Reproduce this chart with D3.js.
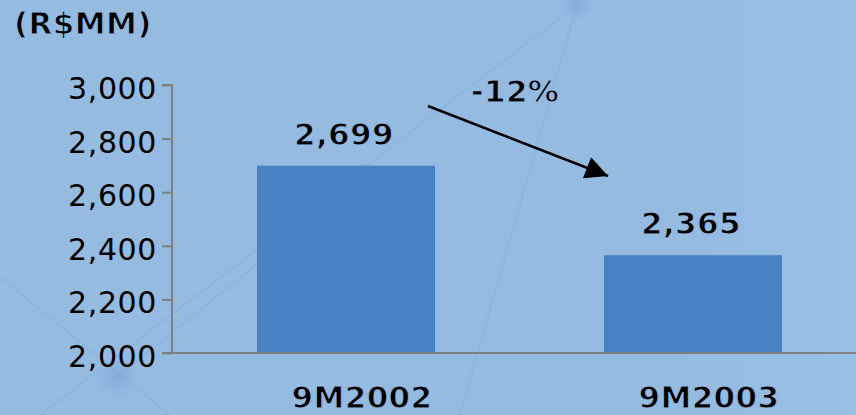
<!DOCTYPE html>
<html>
<head>
<meta charset="utf-8">
<script src="https://cdn.jsdelivr.net/npm/d3@7"></script>
<style>
  html, body { margin: 0; padding: 0; background: #94bbe1; }
  svg { display: block; }
  text { font-family: "DejaVu Sans", Verdana, sans-serif; fill: #000; }
</style>
</head>
<body>
<svg id="chart" width="856" height="415"></svg>
<script>
const categories = ["9M2002", "9M2003"];
const values = [2699, 2365];
const valueLabels = ["2,699", "2,365"];
const yTicks = [2000, 2200, 2400, 2600, 2800, 3000];
const unitLabel = "(R$MM)";
const changeLabel = "-12%";

const W = 856, H = 415;
const BG = "#95bbe1";
const svg = d3.select("#chart");

// background
const defs = svg.append("defs");
const glow = defs.append("radialGradient").attr("id", "glow");
glow.append("stop").attr("offset", "0%").attr("stop-color", "#7aa6d4").attr("stop-opacity", 0.6);
glow.append("stop").attr("offset", "100%").attr("stop-color", "#7aa6d4").attr("stop-opacity", 0);
const side = defs.append("linearGradient").attr("id", "side").attr("x1", 0).attr("x2", 1);
side.append("stop").attr("offset", "0%").attr("stop-color", BG);
side.append("stop").attr("offset", "80%").attr("stop-color", BG);
side.append("stop").attr("offset", "100%").attr("stop-color", "#98bfe6");
svg.append("rect").attr("width", W).attr("height", H).attr("fill", "url(#side)");

const bg = svg.append("g");
[[577, 5, 40, 415], [577, 5, 460, 415], [0, 277, 170, 415], [117, 377, 330, 205]].forEach(l => {
  bg.append("line").attr("x1", l[0]).attr("y1", l[1]).attr("x2", l[2]).attr("y2", l[3])
    .attr("stroke", "#7aa8d8").attr("stroke-opacity", 0.35).attr("stroke-width", 1.5);
});
[[577, 5, 16], [117, 377, 22]].forEach(n => {
  bg.append("circle").attr("cx", n[0]).attr("cy", n[1]).attr("r", n[2]).attr("fill", "url(#glow)");
});

const x = d3.scaleBand().domain(categories).range([172, 867]).paddingInner(0.487).paddingOuter(0.245);
const y = d3.scaleLinear().domain([2000, 3000]).range([353, 85]);

// bars
svg.append("g").selectAll("rect").data(values).join("rect")
  .attr("x", (d, i) => x(categories[i]))
  .attr("y", d => y(d))
  .attr("width", x.bandwidth())
  .attr("height", d => y(2000) - y(d))
  .attr("fill", "#4682c4");

// y axis
const yAxis = svg.append("g").attr("transform", "translate(172,0)")
  .call(d3.axisLeft(y).tickValues(yTicks).tickFormat(d3.format(",")).tickSize(10).tickPadding(5));
yAxis.select(".domain").attr("stroke", "#808080").attr("stroke-width", 2).attr("d", "M-10,85H0V353");
yAxis.selectAll(".tick line").attr("stroke", "#808080").attr("stroke-width", 2);
yAxis.selectAll(".tick text").attr("font-size", 30).attr("font-family", "DejaVu Sans")
  .attr("letter-spacing", 0.6).attr("dy", "0.45em").attr("fill", "#000");

// x axis baseline
svg.append("line").attr("x1", 162).attr("x2", W).attr("y1", y(2000)).attr("y2", y(2000))
  .attr("stroke", "#808080").attr("stroke-width", 2);

// bold, slightly thinned by a background-coloured outline
const semi = sel => sel.attr("font-size", 31).attr("font-weight", "bold")
  .attr("letter-spacing", 0.4).attr("stroke", BG).attr("stroke-width", 1.1);

// category labels
svg.append("g").selectAll("text").data(categories).join("text")
  .attr("x", d => x(d) + x.bandwidth() / 2 + 16)
  .attr("y", 408)
  .attr("text-anchor", "middle")
  .call(semi)
  .text(d => d);

// value labels
svg.append("g").selectAll("text").data(values).join("text")
  .attr("x", (d, i) => x(categories[i]) + x.bandwidth() / 2 - 2)
  .attr("y", d => y(d) - 21)
  .attr("text-anchor", "middle")
  .call(semi)
  .text((d, i) => valueLabels[i]);

// unit label
svg.append("text").attr("x", 14).attr("y", 34).call(semi).text(unitLabel);

// change arrow
defs.append("marker").attr("id", "arrow").attr("viewBox", "0 0 10 10")
  .attr("refX", 10).attr("refY", 5).attr("markerWidth", 11).attr("markerHeight", 9)
  .attr("markerUnits", "strokeWidth").attr("orient", "auto")
  .append("path").attr("d", "M0,0L10,5L0,10Z").attr("fill", "#000");
svg.append("line").attr("x1", 428).attr("y1", 106).attr("x2", 608).attr("y2", 176)
  .attr("stroke", "#000").attr("stroke-width", 2.5).attr("marker-end", "url(#arrow)");
svg.append("text").attr("x", 515).attr("y", 102).attr("text-anchor", "middle")
  .call(semi).text(changeLabel);
</script>
</body>
</html>
